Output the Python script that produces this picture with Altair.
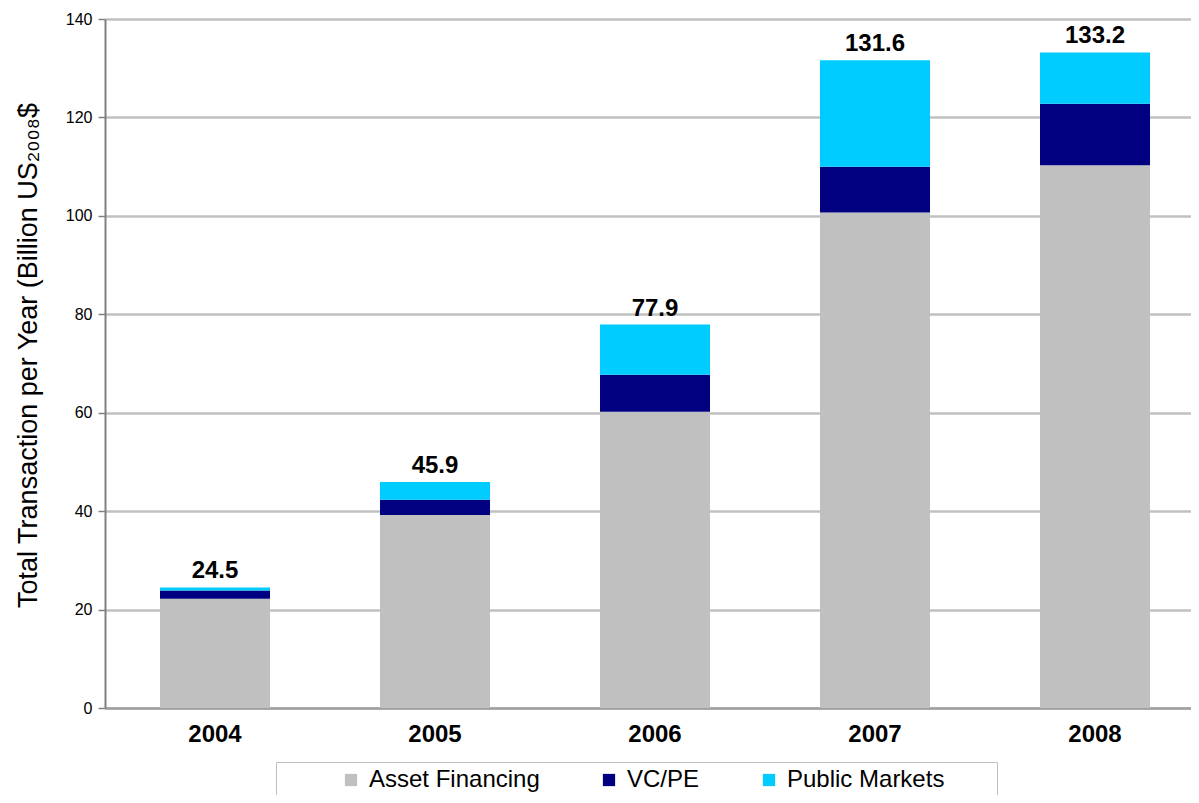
import altair as alt
import pandas as pd

years = ["2004", "2005", "2006", "2007", "2008"]
asset_financing = [22.2, 39.2, 60.2, 100.7, 110.3]
vc_pe = [1.7, 3.1, 7.5, 9.3, 12.5]
public_markets = [0.6, 3.6, 10.2, 21.6, 10.4]
totals = [24.5, 45.9, 77.9, 131.6, 133.2]
series = ["Asset Financing", "VC/PE", "Public Markets"]
colors = ["#C0C0C0", "#000080", "#00CCFF"]

rows = []
for i, y in enumerate(years):
    for k, (name, vals) in enumerate(zip(series, [asset_financing, vc_pe, public_markets])):
        rows.append({"year": y, "series": name, "value": vals[i], "order": k})
df = pd.DataFrame(rows)
tot = pd.DataFrame({"year": years, "total": totals, "label": [f"{t:.1f}" for t in totals]})

FONT = "Liberation Sans"

xscale = alt.Scale(paddingInner=0.5, paddingOuter=0.21818, align=0.573)

x_enc = alt.X(
    "year:N",
    title=None,
    sort=years,
    scale=xscale,
    axis=alt.Axis(
        labelFont=FONT, labelFontSize=24, labelFontWeight="bold", labelColor="#000000",
        labelAngle=0, labelPadding=14, ticks=False,
        domainColor="#a0a0a0", domainWidth=2.5,
    ),
)

bars = alt.Chart(df).mark_bar().encode(
    x=x_enc,
    y=alt.Y(
        "value:Q",
        stack="zero",
        title="Total Transaction per Year (Billion US\u2082\u2080\u2080\u2088$",
        scale=alt.Scale(domain=[0, 140], nice=False),
        axis=alt.Axis(
            values=[0, 20, 40, 60, 80, 100, 120, 140],
            labelFont=FONT, labelFontSize=16, labelColor="#000000", labelPadding=6,
            tickColor="#808080", tickSize=7, tickWidth=1.5,
            domainColor="#808080", domainWidth=2,
            gridColor="#c0c0c0", gridWidth=2.5,
            titleFont=FONT, titleFontSize=27, titleFontWeight="normal", titleColor="#000000",
            titleX=-77, titleY=336, titleAngle=270, titleAlign="center", titleBaseline="middle",
        ),
    ),
    color=alt.Color(
        "series:N",
        scale=alt.Scale(domain=series, range=colors),
        legend=alt.Legend(
            title="\u00a0", titleOrient="right", titlePadding=47, titleFontSize=12,
            orient="none", legendX=171, legendY=743, direction="horizontal",
            symbolType="square", symbolSize=150, symbolStrokeWidth=0, symbolOffset=57,
            labelFont=FONT, labelFontSize=24, labelColor="#000000", labelOffset=6,
            columnPadding=0, strokeColor="#bfbfbf", padding=6, fillColor="#ffffff",
            labelLimit=400,
        ),
    ),
    order=alt.Order("order:Q", sort="ascending"),
)

labels = alt.Chart(tot).mark_text(
    font=FONT, fontSize=24, fontWeight="bold", color="#000000",
    baseline="alphabetic", dy=-9,
).encode(
    x=alt.X("year:N", sort=years, scale=xscale),
    y=alt.Y("total:Q"),
    text="label:N",
)

chart = alt.layer(bars, labels).properties(
    width=1086, height=689,
    autosize=alt.AutoSizeParams(type="none"),
    padding={"left": 97, "top": 11, "right": 0, "bottom": 87},
).configure_view(stroke=None).configure_axis(grid=True).configure_axisX(grid=False)

chart.save("out.html", embed_options={"renderer": "svg", "actions": False})
